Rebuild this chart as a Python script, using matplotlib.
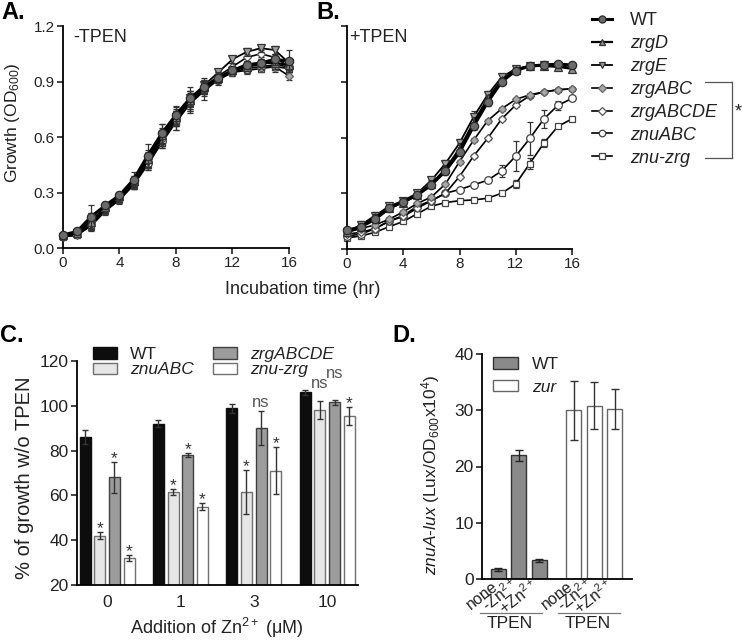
import numpy as np
import matplotlib
matplotlib.use('Agg')
import matplotlib.pyplot as plt
from matplotlib.lines import Line2D

plt.rcParams['font.family'] = ['Liberation Sans', 'DejaVu Sans']
plt.rcParams['mathtext.fontset'] = 'custom'
plt.rcParams['mathtext.rm'] = 'Liberation Sans'
plt.rcParams['mathtext.it'] = 'Liberation Sans:italic'
plt.rcParams['mathtext.bf'] = 'Liberation Sans:bold'

# ---------------- data ----------------
hours = list(range(17))
strains = ['WT', 'zrgD', 'zrgE', 'zrgABC', 'zrgABCDE', 'znuABC', 'znu-zrg']

# Panel A (-TPEN)
A_WT       = [0.07, 0.09, 0.17, 0.23, 0.285, 0.37, 0.50, 0.62, 0.72, 0.81, 0.87, 0.92, 0.96, 0.99, 1.00, 1.02, 1.01]
A_zrgD     = [0.07, 0.08, 0.14, 0.22, 0.28, 0.36, 0.48, 0.61, 0.71, 0.80, 0.87, 0.92, 0.96, 0.98, 1.00, 1.00, 0.99]
A_zrgE     = [0.06, 0.08, 0.13, 0.21, 0.27, 0.35, 0.47, 0.60, 0.71, 0.81, 0.88, 0.95, 1.02, 1.06, 1.08, 1.07, 1.00]
A_zrgABC   = [0.07, 0.08, 0.15, 0.22, 0.28, 0.36, 0.48, 0.60, 0.70, 0.80, 0.86, 0.92, 0.96, 0.98, 0.99, 0.98, 0.93]
A_zrgABCDE = [0.06, 0.07, 0.13, 0.21, 0.27, 0.35, 0.47, 0.59, 0.70, 0.79, 0.87, 0.93, 0.98, 1.03, 1.05, 1.03, 0.98]
A_znuABC   = [0.07, 0.08, 0.14, 0.21, 0.27, 0.35, 0.46, 0.58, 0.69, 0.79, 0.86, 0.91, 0.95, 0.97, 0.98, 0.99, 0.98]
A_znuzrg   = [0.06, 0.07, 0.12, 0.20, 0.26, 0.34, 0.45, 0.57, 0.68, 0.78, 0.85, 0.91, 0.95, 0.96, 0.97, 0.98, 0.97]

A_err_WT       = [0.01, 0.01, 0.06, 0.02, 0.02, 0.04, 0.06, 0.05, 0.05, 0.04, 0.03, 0.03, 0.02, 0.02, 0.02, 0.03, 0.06]
A_err_zrgD     = [0.01, 0.01, 0.05, 0.02, 0.02, 0.03, 0.05, 0.06, 0.05, 0.07, 0.04, 0.02, 0.02, 0.02, 0.02, 0.03, 0.03]
A_err_zrgE     = [0.01, 0.01, 0.03, 0.02, 0.02, 0.03, 0.04, 0.04, 0.04, 0.04, 0.03, 0.02, 0.02, 0.02, 0.02, 0.02, 0.02]
A_err_zrgABC   = [0.01, 0.01, 0.04, 0.02, 0.02, 0.03, 0.04, 0.05, 0.04, 0.05, 0.03, 0.02, 0.02, 0.02, 0.02, 0.03, 0.02]
A_err_zrgABCDE = [0.01, 0.01, 0.03, 0.02, 0.02, 0.02, 0.04, 0.04, 0.04, 0.04, 0.03, 0.02, 0.02, 0.02, 0.02, 0.02, 0.03]
A_err_znuABC   = [0.01, 0.01, 0.03, 0.02, 0.02, 0.03, 0.04, 0.04, 0.05, 0.05, 0.06, 0.03, 0.02, 0.02, 0.02, 0.03, 0.03]
A_err_znuzrg   = [0.01, 0.01, 0.02, 0.02, 0.02, 0.02, 0.03, 0.03, 0.04, 0.04, 0.03, 0.02, 0.02, 0.02, 0.02, 0.02, 0.02]

# Panel B (+TPEN)
B_WT       = [0.10, 0.12, 0.16, 0.22, 0.255, 0.29, 0.345, 0.42, 0.52, 0.66, 0.79, 0.90, 0.96, 0.985, 0.99, 0.995, 0.99]
B_zrgD     = [0.09, 0.12, 0.17, 0.22, 0.25, 0.29, 0.35, 0.43, 0.54, 0.68, 0.81, 0.91, 0.965, 0.985, 0.985, 0.98, 0.97]
B_zrgE     = [0.09, 0.13, 0.18, 0.23, 0.26, 0.30, 0.37, 0.46, 0.57, 0.71, 0.83, 0.925, 0.97, 0.985, 0.99, 0.985, 0.975]
B_zrgABC   = [0.09, 0.11, 0.13, 0.16, 0.20, 0.245, 0.28, 0.35, 0.47, 0.585, 0.69, 0.755, 0.805, 0.83, 0.845, 0.857, 0.862]
B_zrgABCDE = [0.08, 0.09, 0.11, 0.15, 0.175, 0.22, 0.26, 0.30, 0.39, 0.50, 0.595, 0.70, 0.775, 0.825, 0.845, 0.857, 0.862]
B_znuABC   = [0.07, 0.08, 0.11, 0.15, 0.18, 0.23, 0.26, 0.30, 0.32, 0.345, 0.37, 0.42, 0.50, 0.595, 0.70, 0.773, 0.81]
B_znuzrg   = [0.06, 0.07, 0.09, 0.12, 0.148, 0.19, 0.23, 0.25, 0.26, 0.264, 0.273, 0.30, 0.35, 0.46, 0.57, 0.66, 0.70]

B_err_WT       = [0.01, 0.01, 0.02, 0.01, 0.01, 0.01, 0.01, 0.02, 0.02, 0.02, 0.02, 0.01, 0.01, 0.01, 0.01, 0.01, 0.01]
B_err_zrgD     = [0.01, 0.01, 0.02, 0.01, 0.01, 0.01, 0.02, 0.02, 0.03, 0.03, 0.02, 0.01, 0.01, 0.01, 0.01, 0.01, 0.02]
B_err_zrgE     = [0.01, 0.02, 0.02, 0.01, 0.01, 0.01, 0.02, 0.02, 0.02, 0.03, 0.02, 0.01, 0.01, 0.01, 0.01, 0.01, 0.02]
B_err_zrgABC   = [0.01, 0.01, 0.01, 0.01, 0.01, 0.01, 0.01, 0.01, 0.01, 0.01, 0.01, 0.01, 0.01, 0.01, 0.01, 0.01, 0.01]
B_err_zrgABCDE = [0.01, 0.01, 0.01, 0.01, 0.01, 0.01, 0.01, 0.01, 0.01, 0.01, 0.01, 0.01, 0.01, 0.01, 0.01, 0.01, 0.01]
B_err_znuABC   = [0.01, 0.01, 0.01, 0.01, 0.01, 0.01, 0.01, 0.01, 0.01, 0.01, 0.01, 0.03, 0.08, 0.09, 0.05, 0.025, 0.01]
B_err_znuzrg   = [0.01, 0.01, 0.01, 0.01, 0.01, 0.01, 0.01, 0.01, 0.01, 0.01, 0.01, 0.01, 0.02, 0.03, 0.02, 0.01, 0.01]

# Panel C
zn_doses = ['0', '1', '3', '10']
c_strains = ['WT', 'znuABC', 'zrgABCDE', 'znu-zrg']
C_WT       = [86, 92, 99, 106]
C_znuABC   = [42, 61.5, 61.5, 98]
C_zrgABCDE = [68, 78, 90, 101.5]
C_znuzrg   = [32, 55, 71, 95.5]
C_err_WT       = [3, 1.5, 2, 1]
C_err_znuABC   = [1.5, 1.5, 10, 4]
C_err_zrgABCDE = [7, 1, 7.5, 1]
C_err_znuzrg   = [1.5, 1.5, 10.5, 4]
C_marks_WT       = ['', '', '', '']
C_marks_znuABC   = ['*', '*', '*', 'ns']
C_marks_zrgABCDE = ['*', '*', 'ns', 'ns']
C_marks_znuzrg   = ['*', '*', '*', '*']

# Panel D
d_conditions = ['none', '-Zn$^{2+}$', '+Zn$^{2+}$']
D_WT  = [1.7, 22.0, 3.3]
D_zur = [30.0, 30.8, 30.2]
D_err_WT  = [0.2, 1.0, 0.2]
D_err_zur = [5.2, 4.2, 3.6]

# ---------------- figure ----------------
W, H = 742, 642
fig = plt.figure(figsize=(W / 100, H / 100), dpi=100)


def ax_at(l, t, r, b):
    return fig.add_axes([l / W, 1 - b / H, (r - l) / W, (b - t) / H])


def ftext(x, y, s, **kw):
    return fig.text(x / W, 1 - y / H, s, **kw)


def style_axes(ax, fs):
    for sp in ['top', 'right']:
        ax.spines[sp].set_visible(False)
    for sp in ['left', 'bottom']:
        ax.spines[sp].set_linewidth(1.3)
    ax.tick_params(direction='out', length=4, width=1.2, labelsize=fs,
                   colors='#222222', pad=2)


TXT = '#222222'

styles = {
    'WT':       dict(marker='o', mfc='#6a6a6a', mec='#2a2a2a', ms=6.0, lw=2.2),
    'zrgD':     dict(marker='^', mfc='#8c8c8c', mec='#333333', ms=5.5, lw=1.6),
    'zrgE':     dict(marker='v', mfc='#9e9e9e', mec='#333333', ms=5.5, lw=1.3),
    'zrgABC':   dict(marker='D', mfc='#a8a8a8', mec='#666666', ms=4.3, lw=1.2),
    'zrgABCDE': dict(marker='D', mfc='white',   mec='#555555', ms=4.3, lw=1.2),
    'znuABC':   dict(marker='o', mfc='white',   mec='#444444', ms=5.5, lw=1.2),
    'znu-zrg':  dict(marker='s', mfc='white',   mec='#444444', ms=5.0, lw=1.2),
}

A_data = dict(zip(strains, [A_WT, A_zrgD, A_zrgE, A_zrgABC, A_zrgABCDE, A_znuABC, A_znuzrg]))
A_err = dict(zip(strains, [A_err_WT, A_err_zrgD, A_err_zrgE, A_err_zrgABC, A_err_zrgABCDE, A_err_znuABC, A_err_znuzrg]))
B_data = dict(zip(strains, [B_WT, B_zrgD, B_zrgE, B_zrgABC, B_zrgABCDE, B_znuABC, B_znuzrg]))
B_err = dict(zip(strains, [B_err_WT, B_err_zrgD, B_err_zrgE, B_err_zrgABC, B_err_zrgABCDE, B_err_znuABC, B_err_znuzrg]))


def growth(ax, data, err):
    order = strains[::-1]
    for k, s in enumerate(order):
        st = styles[s]
        ax.errorbar(hours, data[s], yerr=err[s], fmt='none', ecolor='#333333',
                    elinewidth=0.9, capsize=2.2, capthick=0.9, zorder=2 + k, clip_on=False)
        ax.plot(hours, data[s], color='black', lw=st['lw'], marker=st['marker'],
                mfc=st['mfc'], mec=st['mec'], mew=0.9, ms=st['ms'],
                zorder=2 + k, clip_on=False)
    ax.set_xlim(0, 16)
    ax.set_ylim(0, 1.2)
    ax.set_xticks([0, 4, 8, 12, 16])
    ax.set_yticks([0.0, 0.3, 0.6, 0.9, 1.2])


# Panel A
axA = ax_at(63, 26, 289, 248)
growth(axA, A_data, A_err)
style_axes(axA, 11)
axA.set_yticklabels(['0.0', '0.3', '0.6', '0.9', '1.2'])
axA.text(0.045, 0.985, '-TPEN', transform=axA.transAxes, fontsize=13, color=TXT,
         ha='left', va='top')
ftext(13, 123, r'Growth (OD$_{600}$)', rotation=90, ha='center', va='center',
      fontsize=12.5, color=TXT)
ftext(1, 1, 'A.', fontsize=17, fontweight='bold', ha='left', va='top')

# Panel B
axB = ax_at(347, 26, 572, 249)
growth(axB, B_data, B_err)
style_axes(axB, 11)
axB.set_yticklabels([])
axB.text(0.01, 0.985, '+TPEN', transform=axB.transAxes, fontsize=13, color=TXT,
         ha='left', va='top')
ftext(316, 1, 'B.', fontsize=17, fontweight='bold', ha='left', va='top')
ftext(303, 289, 'Incubation time (hr)', ha='center', va='center', fontsize=13, color=TXT)

leg_handles = [Line2D([0], [0], color='black', lw=styles[s]['lw'], marker=styles[s]['marker'],
                      mfc=styles[s]['mfc'], mec=styles[s]['mec'], mew=0.9, ms=styles[s]['ms'] * 0.85)
               for s in strains]
legB = axB.legend(leg_handles, strains, loc='upper left', bbox_to_anchor=(592 / W, 1 - 12 / H),
                  bbox_transform=fig.transFigure, frameon=False, fontsize=13,
                  borderpad=0, borderaxespad=0, handlelength=1.1, handletextpad=1.0,
                  labelspacing=0.33)
for t in legB.get_texts():
    t.set_color(TXT)
    if t.get_text() != 'WT':
        t.set_fontstyle('italic')

# bracket with asterisk
for (x0, y0, x1, y1) in [(705, 82, 732, 82), (732, 82, 732, 158), (705, 158, 732, 158)]:
    fig.add_artist(Line2D([x0 / W, x1 / W], [1 - y0 / H, 1 - y1 / H], color='#555555', lw=0.9))
ftext(738, 112, '*', fontsize=13, ha='center', va='center', color=TXT)

# Panel C
axC = ax_at(77, 361, 358, 585)
style_axes(axC, 12.5)
x = np.arange(len(zn_doses))
C_vals = [C_WT, C_znuABC, C_zrgABCDE, C_znuzrg]
C_errs = [C_err_WT, C_err_znuABC, C_err_zrgABCDE, C_err_znuzrg]
C_marks = [C_marks_WT, C_marks_znuABC, C_marks_zrgABCDE, C_marks_znuzrg]
C_faces = ['#0d0d0d', '#e6e6e6', '#9c9c9c', 'white']
C_edges = ['#0d0d0d', '#707070', '#404040', '#707070']
offsets = [-0.30, -0.10, 0.10, 0.30]
bw = 0.15
for i, s in enumerate(c_strains):
    axC.bar(x + offsets[i], C_vals[i], bw, bottom=0, color=C_faces[i], edgecolor=C_edges[i],
            linewidth=1.0, label=s, zorder=2)
    axC.errorbar(x + offsets[i], C_vals[i], yerr=C_errs[i], fmt='none', ecolor='#333333',
                 elinewidth=1.0, capsize=2.5, capthick=1.0, zorder=3)
    for j in range(len(zn_doses)):
        m = C_marks[i][j]
        if not m:
            continue
        top = C_vals[i][j] + C_errs[i][j]
        if m == '*':
            axC.text(x[j] + offsets[i], top - 0.5, m, ha='center', va='baseline',
                     fontsize=12.5, color='#333333')
        else:
            lift = 0
            if j == 3:
                lift = 4 if i == 1 else 8
            axC.text(x[j] + offsets[i], top + 2.0 + lift, m, ha='center', va='baseline',
                     fontsize=12, color='#555555')
axC.set_xlim(-0.41, 3.42)
axC.set_ylim(20, 120)
axC.set_yticks([20, 40, 60, 80, 100, 120])
axC.set_xticks(x)
axC.set_xticklabels(zn_doses)
axC.tick_params(axis='x', length=0, pad=7)
legC = axC.legend(ncol=2, loc='upper left', bbox_to_anchor=(93 / W, 1 - 347 / H),
                  bbox_transform=fig.transFigure, frameon=False, fontsize=12.5,
                  borderpad=0, borderaxespad=0, handlelength=1.38, handleheight=0.62,
                  handletextpad=0.75, columnspacing=1.1, labelspacing=0.02)
for t in legC.get_texts():
    t.set_color(TXT)
    if t.get_text() != 'WT':
        t.set_fontstyle('italic')
ftext(25, 478, '% of growth w/o TPEN', rotation=90, ha='center', va='center',
      fontsize=14.5, color=TXT)
ftext(217, 628, 'Addition of Zn$^{2+}$ (\u03bcM)', ha='center', va='center',
      fontsize=13, color=TXT)
ftext(0, 324, 'C.', fontsize=17, fontweight='bold', ha='left', va='top')

# Panel D
axD = ax_at(482, 354, 632, 579)
style_axes(axD, 12.5)
xw = np.arange(len(d_conditions))
xz = xw + 3.66
bwD = 0.73
axD.bar(xw, D_WT, bwD, color='#8a8a8a', edgecolor='#333333', linewidth=1.0, label='WT', zorder=2)
axD.bar(xz, D_zur, bwD, color='white', edgecolor='#666666', linewidth=1.0, label='zur', zorder=2)
axD.errorbar(xw, D_WT, yerr=D_err_WT, fmt='none', ecolor='#222222', elinewidth=1.0,
             capsize=3, capthick=1.0, zorder=3)
axD.errorbar(xz, D_zur, yerr=D_err_zur, fmt='none', ecolor='#333333', elinewidth=1.0,
             capsize=3, capthick=1.0, zorder=3)
axD.set_xlim(-0.80, 6.51)
axD.set_ylim(0, 40)
axD.set_yticks([0, 10, 20, 30, 40])
axD.set_xticks(np.concatenate([xw, xz]))
axD.set_xticklabels(d_conditions + d_conditions, rotation=38, ha='right', va='baseline',
                    rotation_mode='anchor', fontsize=11.5)
axD.tick_params(axis='x', length=0, pad=6.5)
legD = axD.legend(loc='upper left', bbox_to_anchor=(493 / W, 1 - 357 / H),
                  bbox_transform=fig.transFigure, frameon=False, fontsize=12.5,
                  borderpad=0, borderaxespad=0, handlelength=1.44, handleheight=0.64,
                  handletextpad=0.8, labelspacing=0.45)
for t in legD.get_texts():
    t.set_color(TXT)
    if t.get_text() != 'WT':
        t.set_fontstyle('italic')
trD = axD.get_xaxis_transform()
for xs in [(-0.9, 2.12), (2.9, 5.93)]:
    axD.plot(xs, [-0.151, -0.151], transform=trD, color='#777777', lw=0.9, clip_on=False)
axD.text(0.55, -0.196, 'TPEN', transform=trD, ha='center', va='center', fontsize=12.5, color=TXT)
axD.text(4.35, -0.196, 'TPEN', transform=trD, ha='center', va='center', fontsize=12.5, color=TXT)
ftext(431, 475, r'$\mathit{znuA}$-$\mathit{lux}$ (Lux/OD$_{600}$x10$^{4}$)', rotation=90,
      ha='center', va='center', fontsize=12.5, color=TXT)
ftext(392, 324, 'D.', fontsize=17, fontweight='bold', ha='left', va='top')

fig.savefig('out.png', dpi=100)
